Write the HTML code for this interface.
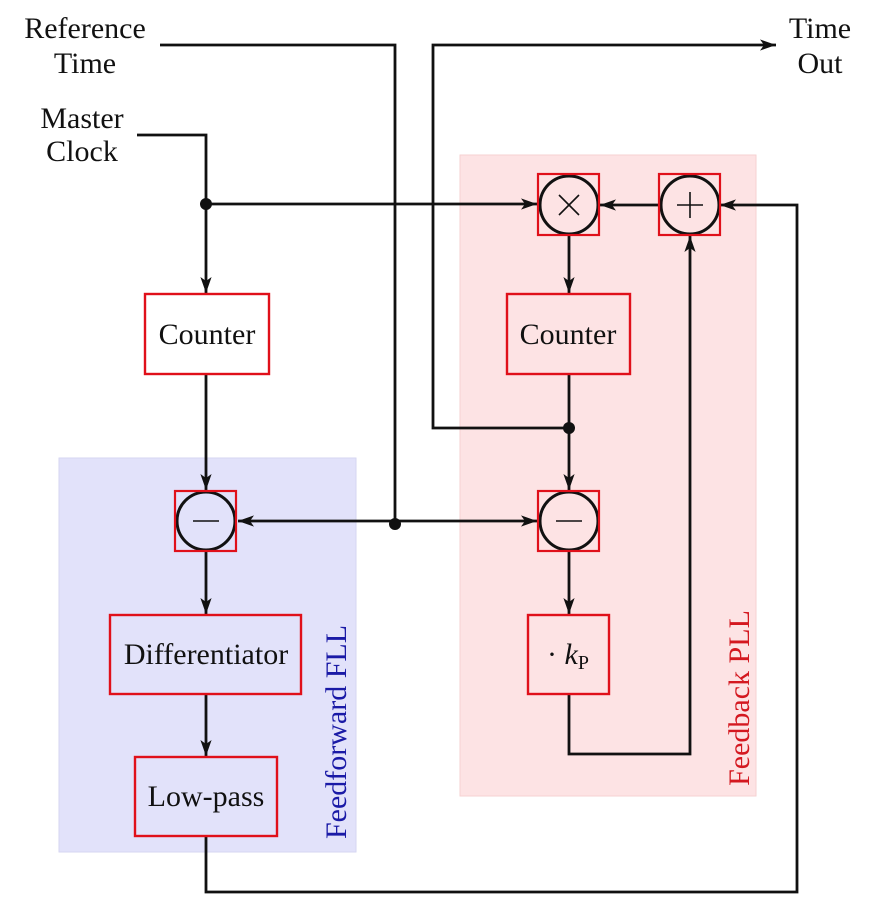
<!DOCTYPE html>
<html><head><meta charset="utf-8"><style>
html,body{margin:0;padding:0;background:#fff}
svg text{font-family:"Liberation Serif",serif;font-size:30px;fill:#111}
</style></head><body>
<svg width="874" height="915" viewBox="0 0 874 915" xmlns="http://www.w3.org/2000/svg">
<defs>
<marker id="b" viewBox="0 0 10 10" refX="10" refY="5" markerWidth="16" markerHeight="16" markerUnits="userSpaceOnUse" orient="auto">
<path d="M0,1.5 L10,5 L0,8.5 L2.5,5 z" fill="#111"/>
</marker>
</defs>
<rect x="59" y="458" width="297" height="394" fill="#e2e2fa" stroke="#d6d6f2"/>
<rect x="460" y="155" width="296" height="641" fill="#fde3e4" stroke="#f6d2d2"/>
<g stroke="#111" stroke-width="2.8" fill="none">
<polyline points="160,45 395,45 395,521"/>
<line x1="395" y1="521" x2="238" y2="521" marker-end="url(#b)"/>
<line x1="395" y1="521" x2="537" y2="521" marker-end="url(#b)"/>
<polyline points="137,135 206,135 206,293" marker-end="url(#b)"/>
<line x1="206" y1="204" x2="537" y2="204" marker-end="url(#b)"/>
<polyline points="569,428 433,428 433,45 776,45" marker-end="url(#b)"/>
<line x1="206" y1="374" x2="206" y2="490" marker-end="url(#b)"/>
<line x1="206" y1="551" x2="206" y2="614" marker-end="url(#b)"/>
<line x1="206" y1="694" x2="206" y2="756" marker-end="url(#b)"/>
<polyline points="206,836 206,892 797,892 797,205 720,205" marker-end="url(#b)"/>
<line x1="658" y1="205" x2="600" y2="205" marker-end="url(#b)"/>
<line x1="569" y1="235" x2="569" y2="293" marker-end="url(#b)"/>
<line x1="569" y1="374" x2="569" y2="490" marker-end="url(#b)"/>
<line x1="569" y1="551" x2="569" y2="614" marker-end="url(#b)"/>
<polyline points="569,694 569,754 690,754 690,236" marker-end="url(#b)"/>
</g>
<g fill="#111">
<circle cx="206" cy="204" r="6"/>
<circle cx="395" cy="524" r="6"/>
<circle cx="569" cy="428" r="6"/>
</g>
<g stroke="#111" stroke-width="3">
<circle cx="569" cy="205" r="29" fill="#fde3e4"/>
<circle cx="690" cy="205" r="29" fill="#fde3e4"/>
<circle cx="569" cy="521" r="29" fill="#fde3e4"/>
<circle cx="206" cy="521" r="29" fill="#e2e2fa"/>
</g>
<g stroke="#111" stroke-width="1.6">
<line x1="559" y1="195" x2="579" y2="215"/><line x1="579" y1="195" x2="559" y2="215"/>
<line x1="677" y1="205" x2="703" y2="205"/><line x1="690" y1="192" x2="690" y2="218"/>
<line x1="556" y1="521" x2="582" y2="521"/>
<line x1="193" y1="521" x2="219" y2="521"/>
</g>
<g fill="none" stroke="#e0101a" stroke-width="2.2">
<rect x="538" y="174" width="61" height="61"/>
<rect x="659" y="174" width="61" height="61"/>
<rect x="538" y="491" width="61" height="60"/>
<rect x="175" y="491" width="61" height="60"/>
</g>
<g stroke="#e0101a" stroke-width="2.4">
<rect x="145" y="294" width="124" height="80" fill="#fff"/>
<rect x="507" y="294" width="123" height="80" fill="#fde3e4"/>
<rect x="110" y="615" width="191" height="79" fill="#e2e2fa"/>
<rect x="135" y="757" width="142" height="79" fill="#e2e2fa"/>
<rect x="528" y="615" width="81" height="79" fill="#fde3e4"/>
</g>
<g text-anchor="middle">
<text x="207" y="344">Counter</text>
<text x="568" y="344">Counter</text>
<text x="206" y="664">Differentiator</text>
<text x="206" y="806">Low-pass</text>
<text x="568" y="664">· <tspan font-style="italic">k</tspan><tspan font-size="20" dy="5">P</tspan></text>
<text x="85" y="38">Reference</text>
<text x="85" y="73">Time</text>
<text x="82" y="128">Master</text>
<text x="82" y="161">Clock</text>
<text x="820" y="38">Time</text>
<text x="820" y="73">Out</text>
<text transform="translate(346,732) rotate(-90)" style="fill:#1a1aa6">Feedforward FLL</text>
<text transform="translate(749,698) rotate(-90)" style="fill:#d41820">Feedback PLL</text>
</g>
</svg>
</body></html>
